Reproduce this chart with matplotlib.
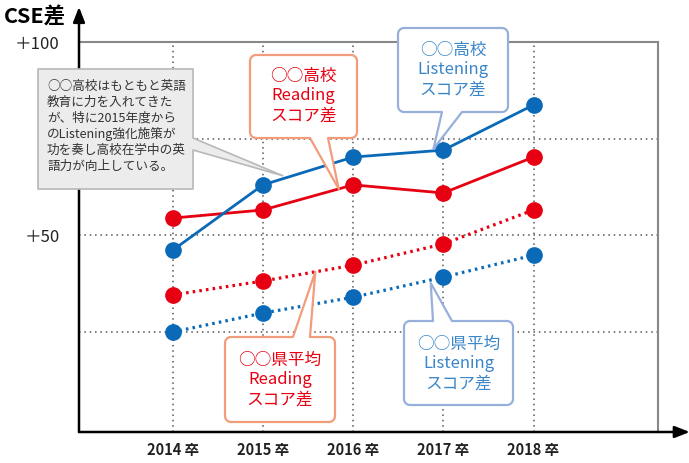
import matplotlib
matplotlib.use("Agg")
import matplotlib.pyplot as plt
import numpy as np
from matplotlib.path import Path
from matplotlib.patches import PathPatch
from matplotlib.transforms import IdentityTransform

plt.rcParams['font.family'] = ['Noto Sans CJK JP', 'DejaVu Sans']

# ---- data ----
years = ["2014 卒", "2015 卒", "2016 卒", "2017 卒", "2018 卒"]
school_listening = [46.1, 63.0, 70.2, 72.0, 83.7]
school_reading = [54.4, 56.5, 63.0, 60.9, 70.2]
pref_reading = [34.5, 38.1, 42.2, 47.7, 56.5]
pref_listening = [24.9, 29.8, 33.9, 39.1, 44.8]
ytick_vals = [50, 100]
ytick_labels = ["＋50", "＋100"]
grid_y = [25, 50, 75]

RED = "#e60012"
BLUE = "#0a6ab8"
BLUE_TXT = "#3a86c8"
RED_EDGE = "#f29c7c"
BLUE_EDGE = "#97afdb"

W, H = 689, 463
fig = plt.figure(figsize=(W / 100, H / 100), dpi=100)
ax = fig.add_axes([79 / W, 1 - 432 / H, (658 - 79) / W, (432 - 42) / H])

x = np.arange(len(years))
ax.set_xlim(-1.04, 5.38)
ax.set_ylim(-1, 100)

# grid
for gy in grid_y:
    ax.axhline(gy, color="#555555", lw=1.1, ls=(0, (1, 2.5)), zorder=1)
for xi in x:
    ax.plot([xi, xi], [-1, 100], color="#555555", lw=1.1, ls=(0, (1, 2.5)), zorder=1)

# spines
for s in ["top", "right"]:
    ax.spines[s].set_color("#888888")
    ax.spines[s].set_linewidth(1.5)
for s in ["left", "bottom"]:
    ax.spines[s].set_visible(False)

ax.annotate("", xy=(0, 1.09), xytext=(0, 0), xycoords="axes fraction",
            arrowprops=dict(arrowstyle="-|>,head_length=0.9,head_width=0.35",
                            lw=1.8, color="black", shrinkA=0, shrinkB=0), zorder=5)
ax.annotate("", xy=(1.055, 0), xytext=(0, 0), xycoords="axes fraction",
            arrowprops=dict(arrowstyle="-|>,head_length=0.9,head_width=0.35",
                            lw=1.8, color="black", shrinkA=0, shrinkB=0), zorder=5)

# series
ms = 11
ax.plot(x, pref_listening, color=BLUE, lw=2.3, ls=(0, (0.8, 1.3)), marker="o", ms=ms, zorder=4)
ax.plot(x, pref_reading, color=RED, lw=2.3, ls=(0, (0.8, 1.3)), marker="o", ms=ms, zorder=4)
ax.plot(x, school_reading, color=RED, lw=2.0, marker="o", ms=ms, zorder=4)
ax.plot(x, school_listening, color=BLUE, lw=2.0, marker="o", ms=ms, zorder=4)

# ticks
ax.set_xticks(x)
ax.set_xticklabels(years, fontsize=10.5, fontweight="bold", color="#222222")
ax.set_yticks(ytick_vals)
ax.set_yticklabels(ytick_labels, fontsize=12, color="#222222")
ax.tick_params(axis="x", length=0, pad=7)
ax.tick_params(axis="y", length=0, pad=14)

fig.text(4 / W, 1 - 17 / H, "CSE差", fontsize=15.5, fontweight="bold", va="center", ha="left")

fig.canvas.draw()


def seg_point(series, i, t):
    xx = i + t
    yy = series[i] + t * (series[i + 1] - series[i])
    return ax.transData.transform((xx, yy))


def callout(box, side, base, tip, fc, ec, lw, r, z=3):
    l, t, rr, b = box
    y0 = H - b
    y1 = H - t
    x0, x1 = l, rr
    tx, ty = tip
    def arc(cx, cy, a0, a1):
        ang = np.linspace(np.radians(a0), np.radians(a1), 8)
        return [(cx + r * np.cos(a), cy + r * np.sin(a)) for a in ang]
    pts = []
    pts += arc(x0 + r, y0 + r, 180, 270) if r > 0 else [(x0, y0)]
    if side == "bottom":
        pts += [(base[0], y0), (tx, ty), (base[1], y0)]
    pts += arc(x1 - r, y0 + r, 270, 360) if r > 0 else [(x1, y0)]
    if side == "right":
        pts += [(x1, H - base[1]), (tx, ty), (x1, H - base[0])]
    pts += arc(x1 - r, y1 - r, 0, 90) if r > 0 else [(x1, y1)]
    if side == "top":
        pts += [(base[1], y1), (tx, ty), (base[0], y1)]
    pts += arc(x0 + r, y1 - r, 90, 180) if r > 0 else [(x0, y1)]
    pts.append(pts[0])
    codes = [Path.MOVETO] + [Path.LINETO] * (len(pts) - 2) + [Path.CLOSEPOLY]
    p = PathPatch(Path(pts, codes), transform=IdentityTransform(), facecolor=fc,
                  edgecolor=ec, lw=lw, zorder=z, joinstyle="round")
    fig.add_artist(p)


# gray explanatory callout
tip = seg_point(school_listening, 1, 0.22)
callout((38, 69, 193, 189), "right", (138, 150), (tip[0], tip[1] + 3), "#ececec", "#b8b8b8", 1.2, 0)
gray_lines = ["○○高校はもともと英語", "教育に力を入れてきた", "が、特に2015年度から",
              "のListening強化施策が", "功を奏し高校在学中の英", "語力が向上している。"]
for k, line in enumerate(gray_lines):
    fig.text(47 / W, 1 - (86 + 16 * k) / H, line, fontsize=9.1, color="#333333",
             va="center", ha="left", zorder=6)

BOXFS = 12
LS = 1.22
# school reading
tip = seg_point(school_reading, 1, 0.84)
callout((250, 55, 357, 138), "bottom", (310, 328), tip, "white", RED_EDGE, 1.6, 6)
fig.text(303.5 / W, 1 - 96 / H, "○○高校\nReading\nスコア差", fontsize=BOXFS, color=RED,
         ha="center", va="center", linespacing=LS)

# school listening
tip = seg_point(school_listening, 2, 0.89)
callout((398, 28, 508, 112), "bottom", (442, 462), (tip[0], tip[1] + 2), "white", BLUE_EDGE, 1.6, 6)
fig.text(453 / W, 1 - 70 / H, "○○高校\nListening\nスコア差", fontsize=BOXFS, color=BLUE_TXT,
         ha="center", va="center", linespacing=LS)

# prefecture reading
tip = seg_point(pref_reading, 1, 0.58)
callout((225, 337, 335, 422), "top", (293, 310), tip, "white", RED_EDGE, 1.6, 6)
fig.text(280 / W, 1 - 380 / H, "○○県平均\nReading\nスコア差", fontsize=BOXFS, color=RED,
         ha="center", va="center", linespacing=LS)

# prefecture listening
tip = seg_point(pref_listening, 2, 0.86)
callout((404, 321, 513, 405), "top", (433, 452), (tip[0], tip[1] - 3), "white", BLUE_EDGE, 1.6, 6)
fig.text(458.5 / W, 1 - 364 / H, "○○県平均\nListening\nスコア差", fontsize=BOXFS, color=BLUE_TXT,
         ha="center", va="center", linespacing=LS)

fig.savefig("out.png", dpi=100)
